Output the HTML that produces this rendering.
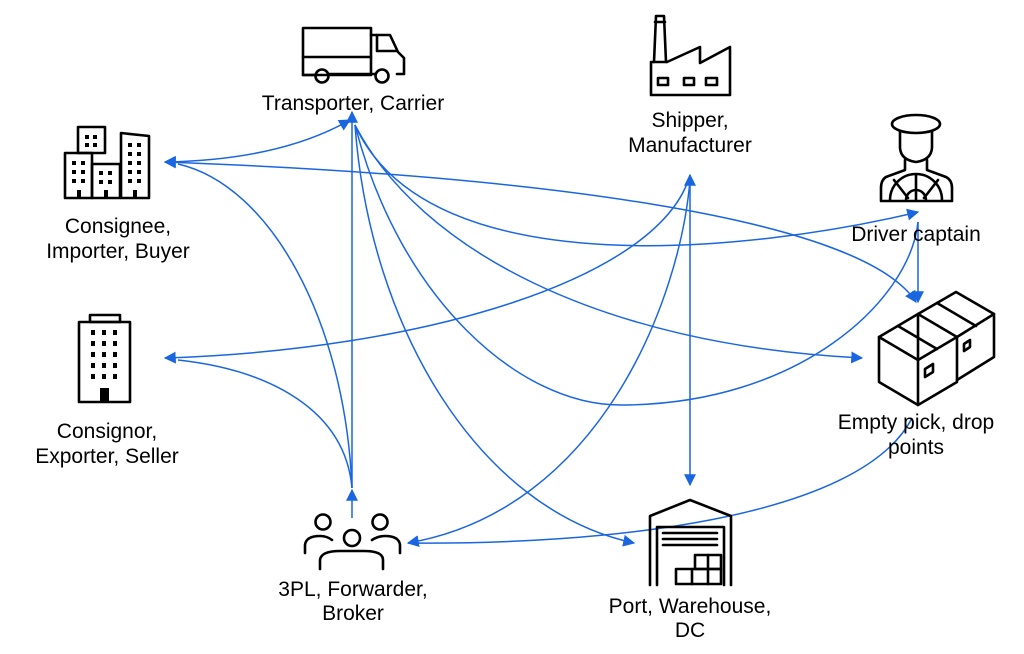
<!DOCTYPE html>
<html><head><meta charset="utf-8"><style>
html,body{margin:0;padding:0;background:#fff;}
svg{display:block;}
text{font-family:"Liberation Sans",sans-serif;font-size:21px;fill:#000;text-anchor:middle;}
.e{fill:none;stroke:#1a66e0;stroke-width:1.5;}
.i{fill:none;stroke:#000;stroke-width:2.6;stroke-linejoin:round;stroke-linecap:round;}
</style></head><body>
<svg width="1024" height="654" viewBox="0 0 1024 654" xmlns="http://www.w3.org/2000/svg">
<defs>
<marker id="b" viewBox="0 0 10 10" refX="9" refY="5" markerWidth="12" markerHeight="12" orient="auto-start-reverse" markerUnits="userSpaceOnUse"><path d="M0,0 L10,5 L0,10 z" fill="#1a66e0"/></marker>
</defs>

<path class="e" d="M352,518 L352,490" marker-end="url(#b)"/>
<path class="e" d="M352,488 L352,112" marker-end="url(#b)"/>
<path class="e" d="M165,162 Q280,160 350,120" marker-start="url(#b)" marker-end="url(#b)"/>
<path class="e" d="M178,164 C270,185 345,320 352,488"/>
<path class="e" d="M165,162 C520,175 860,215 916,302" marker-start="url(#b)" marker-end="url(#b)"/>
<path class="e" d="M165,358 C420,350 660,280 690,175" marker-start="url(#b)"/>
<path class="e" d="M178,360 C270,370 345,410 352,488"/>
<path class="e" d="M355,125 C430,290 760,250 918,212" marker-end="url(#b)"/>
<path class="e" d="M355,125 C420,250 600,345 862,358" marker-end="url(#b)"/>
<path class="e" d="M355,125 C400,300 520,405 620,405 C800,405 910,300 918,222"/>
<path class="e" d="M355,125 C370,330 480,510 634,543" marker-end="url(#b)"/>
<path class="e" d="M690,175 L690,485" marker-start="url(#b)" marker-end="url(#b)"/>
<path class="e" d="M408,543 C600,510 680,300 690,180" marker-start="url(#b)"/>
<path class="e" d="M408,543 C600,545 860,520 912,418"/>
<path class="e" d="M918,222 L918,302" marker-end="url(#b)"/>

<g class="i">
<rect x="303" y="28" width="68" height="47"/>
<line x1="303" y1="57" x2="371" y2="57"/>
<path d="M371,35 H390 L398,52 L404,58 V74 H397"/>
<path d="M377,35 V51 H397"/>
<circle cx="322" cy="76" r="6.5"/><circle cx="382" cy="76" r="6.5"/>
<line x1="329" y1="74" x2="375" y2="74"/><line x1="303" y1="75" x2="315" y2="75"/>
</g>
<text x="353" y="110">Transporter, Carrier</text>

<g class="i" stroke-width="2.4">
<rect x="65" y="153" width="27" height="45"/>
<rect x="78" y="127" width="27" height="26"/>
<rect x="92" y="164" width="28" height="34"/>
<path d="M121,198 V133 L149,136 V198 Z"/>
</g>
<g fill="#000">
<rect x="85" y="135" width="4" height="4"/><rect x="93" y="135" width="4" height="4"/><rect x="85" y="143" width="4" height="4"/><rect x="93" y="143" width="4" height="4"/>
<rect x="72" y="161" width="4" height="4"/><rect x="81" y="161" width="4" height="4"/><rect x="72" y="170" width="4" height="4"/><rect x="81" y="170" width="4" height="4"/><rect x="72" y="179" width="4" height="4"/><rect x="81" y="179" width="4" height="4"/>
<rect x="99" y="171" width="4" height="4"/><rect x="108" y="171" width="4" height="4"/><rect x="99" y="180" width="4" height="4"/><rect x="108" y="180" width="4" height="4"/>
<rect x="128" y="143" width="4" height="4"/><rect x="137" y="143" width="4" height="4"/><rect x="128" y="152" width="4" height="4"/><rect x="137" y="152" width="4" height="4"/><rect x="128" y="161" width="4" height="4"/><rect x="137" y="161" width="4" height="4"/><rect x="128" y="170" width="4" height="4"/><rect x="137" y="170" width="4" height="4"/><rect x="128" y="179" width="4" height="4"/><rect x="137" y="179" width="4" height="4"/>
<rect x="77" y="190" width="4" height="8"/><rect x="104" y="190" width="4" height="8"/><rect x="133" y="190" width="4" height="8"/>
</g>
<text x="118" y="233">Consignee,</text>
<text x="118" y="258">Importer, Buyer</text>

<g class="i" stroke-width="2.4">
<rect x="79" y="322" width="51" height="80"/>
<rect x="90" y="315" width="30" height="7"/>
</g>
<g fill="#000">
<rect x="91" y="330" width="4" height="5"/><rect x="102" y="330" width="4" height="5"/><rect x="113" y="330" width="4" height="5"/>
<rect x="91" y="341" width="4" height="5"/><rect x="102" y="341" width="4" height="5"/><rect x="113" y="341" width="4" height="5"/>
<rect x="91" y="352" width="4" height="5"/><rect x="102" y="352" width="4" height="5"/><rect x="113" y="352" width="4" height="5"/>
<rect x="91" y="363" width="4" height="5"/><rect x="102" y="363" width="4" height="5"/><rect x="113" y="363" width="4" height="5"/>
<rect x="91" y="374" width="4" height="5"/><rect x="102" y="374" width="4" height="5"/><rect x="113" y="374" width="4" height="5"/>
<rect x="100" y="388" width="9" height="14"/>
</g>
<text x="107" y="438">Consignor,</text>
<text x="107" y="463">Exporter, Seller</text>

<g class="i" stroke-width="2.4">
<path d="M654,62 L656,16 H664 L666,62"/><line x1="655" y1="22" x2="665" y2="22"/>
<path d="M651,95 V62 H667 L700,47 V63 L730,47 V95 Z"/>
<rect x="658" y="78" width="10" height="7"/><rect x="684" y="78" width="10" height="7"/><rect x="706" y="78" width="11" height="7"/>
</g>
<text x="690" y="127">Shipper,</text>
<text x="690" y="152">Manufacturer</text>

<g class="i" stroke-width="2.4">
<ellipse cx="916" cy="124" rx="24" ry="9"/>
<path d="M900,131 V148 Q901,160 916,162 Q931,160 932,148 V131"/>
<path d="M905,160 V170 L886,177 Q881,180 881,188 V201 H952 V188 Q952,180 946,177 L927,170 V160"/>
<path d="M890,200 A26,26 0 0 1 942,200"/><path d="M906,200 A10,10 0 0 1 926,200"/>
<line x1="916" y1="175" x2="916" y2="200"/><line x1="894" y1="180" x2="908" y2="198"/><line x1="938" y1="180" x2="924" y2="198"/>
</g>
<text x="916" y="241">Driver captain</text>

<g class="i" stroke-width="2.4">
<path d="M879,337 L918,314 L957,337 L957,382 L918,405 L879,382 Z"/>
<path d="M918,314 L956,292 L994,314 L994,357 L957,380"/>
<path d="M879,337 L918,360 L957,337"/><line x1="918" y1="360" x2="918" y2="405"/>
<path d="M957,337 L994,314"/>
<line x1="898" y1="326" x2="937" y2="349"/><line x1="937" y1="303" x2="976" y2="326"/>
<line x1="918" y1="314" x2="918" y2="360"/>
<path d="M925,369 L933,364 V372 L925,377 Z"/><path d="M964,344 L970,340 V347 L964,351 Z"/>
</g>
<text x="916" y="429">Empty pick, drop</text>
<text x="916" y="454">points</text>

<g class="i" stroke-width="2.4">
<circle cx="323" cy="522" r="7.5"/><circle cx="380" cy="522" r="7.5"/><circle cx="352" cy="538" r="8"/>
<path d="M305,553 V545 Q306,536 320,536 Q327,536 332,540"/>
<path d="M400,553 V545 Q399,536 385,536 Q378,536 372,540"/>
<path d="M320,569 V560 Q321,551 340,551 H364 Q383,551 383,560 V569"/>
</g>
<text x="353" y="596">3PL, Forwarder,</text>
<text x="353" y="620">Broker</text>

<g class="i" stroke-width="2.4">
<path d="M650,585 V516 L690,500 L731,516 V585"/>
<path d="M657,585 V527 H724 V585"/>
<line x1="663" y1="533" x2="717" y2="533"/><line x1="663" y1="539" x2="717" y2="539"/><line x1="663" y1="545" x2="717" y2="545"/>
<rect x="695" y="555" width="26" height="14"/><rect x="676" y="569" width="45" height="15"/>
<line x1="708" y1="555" x2="708" y2="584"/><line x1="692" y1="569" x2="692" y2="584"/>
</g>
<text x="690" y="613">Port, Warehouse,</text>
<text x="690" y="637">DC</text>
</svg>
</body></html>
